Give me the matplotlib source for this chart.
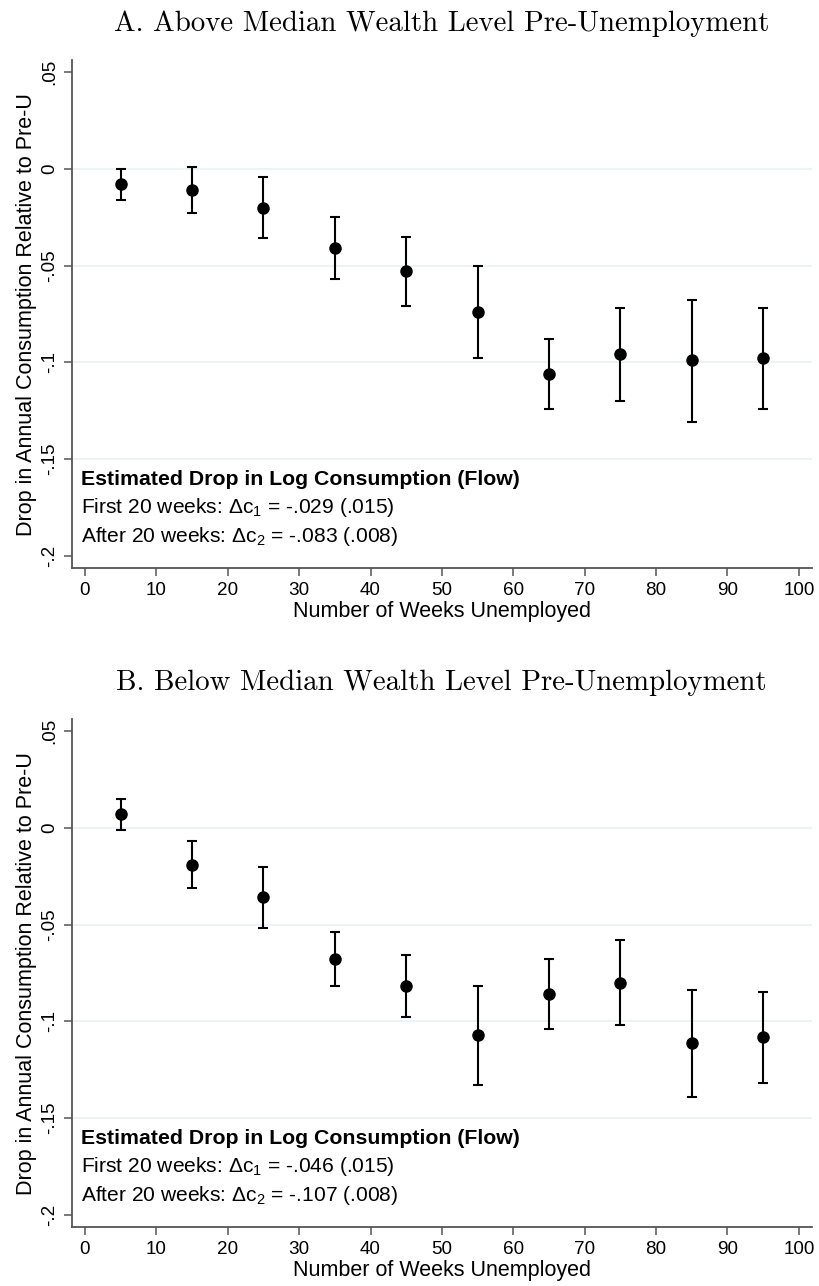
import matplotlib
matplotlib.use("Agg")
import matplotlib.pyplot as plt

# ==================================================
# DATA
# ==================================================
weeks = [5, 15, 25, 35, 45, 55, 65, 75, 85, 95]

above_est = [-0.008, -0.011, -0.020, -0.041, -0.053, -0.074, -0.106, -0.096, -0.099, -0.098]
above_lo = [-0.016, -0.023, -0.036, -0.057, -0.071, -0.098, -0.124, -0.120, -0.131, -0.124]
above_hi = [0.000, 0.001, -0.004, -0.025, -0.035, -0.050, -0.088, -0.072, -0.068, -0.072]

below_est = [0.007, -0.019, -0.036, -0.068, -0.082, -0.107, -0.086, -0.080, -0.111, -0.108]
below_lo = [-0.001, -0.031, -0.052, -0.082, -0.098, -0.133, -0.104, -0.102, -0.139, -0.132]
below_hi = [0.015, -0.007, -0.020, -0.054, -0.066, -0.082, -0.068, -0.058, -0.084, -0.085]

titles = ["A. Above Median Wealth Level Pre-Unemployment",
          "B. Below Median Wealth Level Pre-Unemployment"]
dc1 = ["-.029 (.015)", "-.046 (.015)"]
dc2 = ["-.083 (.008)", "-.107 (.008)"]

yticks = [0.05, 0, -0.05, -0.1, -0.15, -0.2]
ytick_labels = [".05", "0", "-.05", "-.1", "-.15", "-.2"]
xticks = list(range(0, 101, 10))

# ==================================================
# STYLE
# ==================================================
plt.rcParams["font.family"] = ["Liberation Sans", "DejaVu Sans"]
plt.rcParams["mathtext.fontset"] = "custom"
plt.rcParams["mathtext.rm"] = "Liberation Sans"
plt.rcParams["mathtext.it"] = "Liberation Sans:italic"

spine_col = "#555555"
grid_col = "#eaf2f3"

fig = plt.figure(figsize=(8.2, 12.86), dpi=100)

# axes boxes in figure fractions (left, bottom, width, height)
boxes = [
    [0.0874, 0.5581, 0.9025, 0.3952],
    [0.0874, 0.0456, 0.9025, 0.3953],
]

panels = [
    (above_est, above_lo, above_hi),
    (below_est, below_lo, below_hi),
]

for i, (est, lo, hi) in enumerate(panels):
    ax = fig.add_axes(boxes[i])

    yerr = [[e - l for e, l in zip(est, lo)], [h - e for e, h in zip(est, hi)]]
    ax.errorbar(weeks, est, yerr=yerr, fmt="o", color="black",
                markersize=8, elinewidth=1.5, capsize=3.6, capthick=1.5,
                zorder=3)

    ax.set_xlim(-1.86, 101.8)
    ax.set_ylim(-0.2066, 0.0563)

    ax.set_yticks(yticks)
    ax.set_yticklabels(ytick_labels, rotation=90, va="center")
    ax.set_xticks(xticks)

    # horizontal grid only at interior ticks
    for yv in [0, -0.05, -0.1, -0.15]:
        ax.axhline(yv, color=grid_col, lw=1.3, zorder=0)

    for s in ["top", "right"]:
        ax.spines[s].set_visible(False)
    for s in ["left", "bottom"]:
        ax.spines[s].set_color(spine_col)
        ax.spines[s].set_linewidth(1.3)

    ax.tick_params(axis="both", direction="out", length=6, width=1.1,
                   color=spine_col, labelsize=13.6, pad=4)

    ax.set_xlabel("Number of Weeks Unemployed", fontsize=15.5, labelpad=1.5)
    ax.set_ylabel("Drop in Annual Consumption Relative to Pre-U",
                  fontsize=15.5, labelpad=3)

    ax.set_title(titles[i], fontsize=20.8, family="cmr10", pad=21)

    # estimate box
    ax.text(0.012, 0.174, "Estimated Drop in Log Consumption (Flow)",
            transform=ax.transAxes, fontsize=15.3, fontweight="bold",
            va="center", ha="left")
    ax.text(0.012, 0.119, "First 20 weeks: \u0394c$_1$ = " + dc1[i],
            transform=ax.transAxes, fontsize=15.1, va="center", ha="left")
    ax.text(0.012, 0.062, "After 20 weeks: \u0394c$_2$ = " + dc2[i],
            transform=ax.transAxes, fontsize=15.1, va="center", ha="left")

fig.savefig("out.png", dpi=100, facecolor="white")
